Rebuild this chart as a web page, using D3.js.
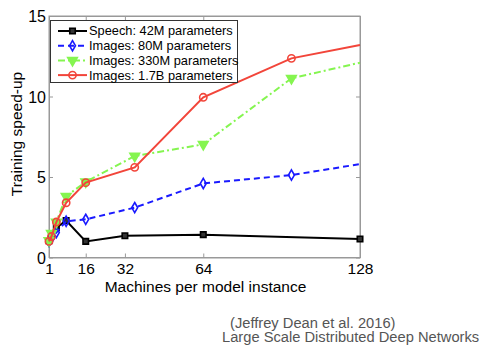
<!DOCTYPE html>
<html lang="en">
<head>
<meta charset="utf-8">
<title>Training speed-up</title>
<script src="https://d3js.org/d3.v7.min.js"></script>
<style>
  body { margin: 0; background: #fff; }
  svg text { font-family: "Liberation Sans", Arial, sans-serif; }
  .tick text { fill: #000; }
</style>
</head>
<body>
<script>
// data
const xTicks = [1, 16, 32, 64, 128];
const yTicks = [0, 5, 10, 15];

const speechX = [1, 2, 4, 8, 16, 32, 64, 128];
const speechY = [1.05, 1.4, 1.85, 2.3, 1.0, 1.35, 1.42, 1.15];

const img80X = [1, 2, 4, 8, 16, 36, 64, 100, 128];
const img80Y = [1.0, 1.2, 1.55, 2.25, 2.37, 3.1, 4.6, 5.12, 5.8];

const img330X = [1, 2, 4, 8, 16, 36, 64, 100, 128];
const img330Y = [1.05, 1.5, 2.2, 3.8, 4.7, 6.3, 7.03, 11.13, 12.1];

const img17X = [1, 2, 4, 8, 16, 36, 64, 100, 128];
const img17Y = [1.0, 1.3, 2.2, 3.4, 4.65, 5.6, 9.95, 12.37, 13.2];

const seriesNames = ["Speech: 42M parameters", "Images: 80M parameters",
                     "Images: 330M parameters", "Images: 1.7B parameters"];

const w = 493, h = 351;
const mLeft = 49, mRight = 360, mTop = 16, mBottom = 257.5;

const xScale = d3.scaleLinear().domain([1, 128]).range([mLeft, mRight]);
const yScale = d3.scaleLinear().domain([0, 15]).range([mBottom, mTop]);

const svg = d3.select("body").append("svg")
  .attr("width", w).attr("height", h);

// series styles
const series = [
  { name: seriesNames[0], xs: speechX, ys: speechY, color: "#000", dash: null, marker: "square", lastMarker: true },
  { name: seriesNames[1], xs: img80X, ys: img80Y, color: "#1a1aff", dash: "6,4", marker: "diamond", lastMarker: false },
  { name: seriesNames[2], xs: img330X, ys: img330Y, color: "#85f550", dash: "7,3,2,3", marker: "triangle", lastMarker: false },
  { name: seriesNames[3], xs: img17X, ys: img17Y, color: "#f2453a", dash: null, marker: "circle", lastMarker: false }
];

// box
svg.append("rect")
  .attr("x", mLeft).attr("y", mTop)
  .attr("width", mRight - mLeft).attr("height", mBottom - mTop)
  .attr("fill", "none").attr("stroke", "#999").attr("stroke-width", 1);

// axes
const xAxis = svg.append("g")
  .attr("transform", "translate(0," + mBottom + ")")
  .call(d3.axisBottom(xScale).tickValues(xTicks).tickSizeInner(-4).tickSizeOuter(0).tickPadding(5.5));
const yAxis = svg.append("g")
  .attr("transform", "translate(" + mLeft + ",0)")
  .call(d3.axisLeft(yScale).tickValues(yTicks).tickSizeInner(-4).tickSizeOuter(0).tickPadding(3));
// mirrored ticks on top and right
svg.append("g")
  .attr("transform", "translate(0," + mTop + ")")
  .call(d3.axisTop(xScale).tickValues(xTicks).tickSizeInner(-4).tickSizeOuter(0).tickFormat(""));
svg.append("g")
  .attr("transform", "translate(" + mRight + ",0)")
  .call(d3.axisRight(yScale).tickValues(yTicks).tickSizeInner(-4).tickSizeOuter(0).tickFormat(""));

svg.selectAll(".domain").attr("stroke", "#999");
svg.selectAll(".tick line").attr("stroke", "#999");
xAxis.selectAll("text").attr("font-size", 15.5);
yAxis.selectAll("text").attr("font-size", 16).attr("dy", "0.36em");

// lines + markers
const markerSym = {
  square: d3.symbolSquare,
  diamond: d3.symbolDiamond,
  triangle: d3.symbolTriangle,
  circle: d3.symbolCircle
};

function drawMarker(g, type, color, x, y) {
  const size = type === "square" ? 30 : type === "circle" ? 42 : type === "diamond" ? 30 : 40;
  return g.append("path")
    .attr("d", d3.symbol().type(markerSym[type]).size(size)())
    .attr("transform", "translate(" + x + "," + y + ")" + (type === "triangle" ? " rotate(180)" : ""))
    .attr("stroke", color).attr("stroke-width", 1.6)
    .attr("fill", type === "square" ? "#333" : type === "triangle" ? color : "none");
}

const line = d3.line().x(d => xScale(d[0])).y(d => yScale(d[1]));

series.forEach(s => {
  const pts = s.xs.map((x, i) => [x, s.ys[i]]);
  svg.append("path")
    .attr("d", line(pts))
    .attr("fill", "none")
    .attr("stroke", s.color)
    .attr("stroke-width", 2)
    .attr("stroke-dasharray", s.dash);
  const g = svg.append("g");
  pts.forEach((p, i) => {
    if (i === pts.length - 1 && !s.lastMarker) return;
    drawMarker(g, s.marker, s.color, xScale(p[0]), yScale(p[1]));
  });
});

// legend
const lg = svg.append("g");
lg.append("rect")
  .attr("x", 50.5).attr("y", 20.5).attr("width", 187).attr("height", 62)
  .attr("fill", "#fff").attr("stroke", "#333").attr("stroke-width", 1);
series.forEach((s, i) => {
  const y = 31 + i * 14.7;
  lg.append("line")
    .attr("x1", 58).attr("x2", 87).attr("y1", y).attr("y2", y)
    .attr("stroke", s.color).attr("stroke-width", 2)
    .attr("stroke-dasharray", s.dash);
  drawMarker(lg, s.marker, s.color, 72.5, y);
  lg.append("text")
    .attr("x", 89).attr("y", y).attr("dy", "0.35em")
    .attr("font-size", 12.8)
    .text(s.name);
});

// axis labels
svg.append("text")
  .attr("x", (mLeft + mRight) / 2 + 1).attr("y", 291.5)
  .attr("text-anchor", "middle").attr("font-size", 15.5)
  .text("Machines per model instance");

svg.append("text")
  .attr("transform", "translate(21.5,134) rotate(-90)")
  .attr("text-anchor", "middle").attr("font-size", 15.5)
  .text("Training speed-up");

// source caption
svg.append("text")
  .attr("x", 230).attr("y", 327.5)
  .attr("font-size", 14.7).attr("fill", "#555")
  .text("(Jeffrey Dean et al. 2016)");
svg.append("text")
  .attr("x", 222).attr("y", 342)
  .attr("font-size", 14.7).attr("fill", "#555")
  .text("Large Scale Distributed Deep Networks");
</script>
</body>
</html>
